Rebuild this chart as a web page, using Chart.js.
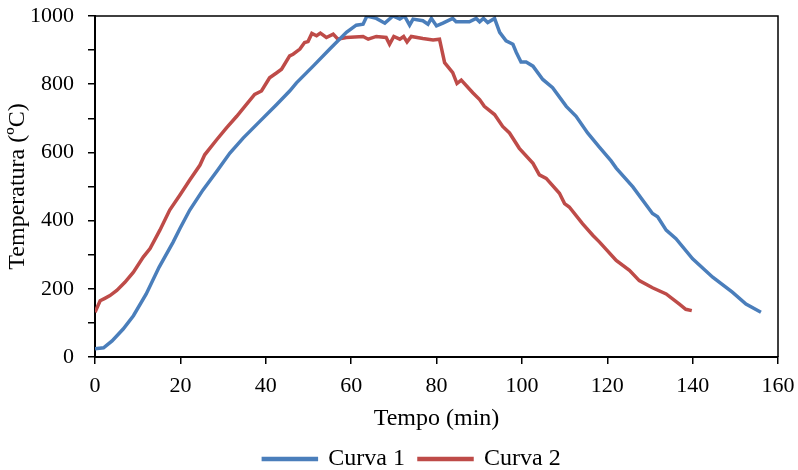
<!DOCTYPE html>
<html>
<head>
<meta charset="utf-8">
<script src="https://cdn.jsdelivr.net/npm/chart.js@4.4.0/dist/chart.umd.min.js"></script>
<style>
    body { margin: 0; background: #fff; }
</style>
</head>
<body>
<canvas id="myChart" width="798" height="470"></canvas>
<script>
var time1 = [0, 2, 4, 6.6, 9, 12, 15, 18.3, 19.9, 22.2, 25.3, 28.5, 31.6, 34.7, 38.6, 42.5, 45.6, 47.2, 51.1, 55,
    58.9, 61.2, 62.8, 63.7, 65.9, 67.9, 69.8, 71.4, 72.5, 73.7, 74.5, 76.8, 78, 78.8, 80, 81.5, 83.8, 84.6, 87.7, 89.3,
    90.1, 91, 92, 93.6, 94.8, 96.3, 97.9, 98.7, 99.8, 101, 102.6, 104.9, 107.2, 110.4, 112.7, 115.4, 118.2, 120.9, 122.1, 126,
    130.6, 131.8, 133.8, 136.1, 140, 144.7, 149.3, 152.5, 156];
var temp1 = [24, 27, 47, 82, 121, 185, 263, 337, 377, 431, 490, 544, 598, 642, 691, 740, 780, 804, 853, 903,
    952, 973, 976, 1000, 993, 979, 1000, 991, 1000, 973, 991, 986, 976, 993, 971, 979, 993, 983, 983, 993,
    983, 993, 981, 993, 952, 927, 917, 893, 865, 865, 853, 814, 790, 735, 706, 657, 615, 575, 554, 499,
    421, 411, 372, 347, 288, 234, 190, 155, 131];

var time2 = [0, 1.2, 2.3, 3.5, 5.1, 7, 9, 11.3, 12.9, 15.2, 17.5, 19.9, 22.2, 24.6, 25.7, 28.5, 30.8, 33.2, 35.1, 37.4,
    39, 40.9, 42.5, 43.7, 45.6, 46.4, 48, 49.1, 49.9, 50.8, 51.9, 52.8, 54.2, 55.8, 56.9, 58.9, 62.8, 64, 65.9, 68.2,
    69, 70, 71.4, 72.3, 73.1, 74.1, 76.8, 79.2, 80.7, 81.9, 83.8, 84.8, 85.8, 88.5, 90.1, 91.2, 93.6, 95.5, 97.1, 99.4,
    102.6, 104.1, 105.7, 108.8, 110, 111.1, 114.2, 116.6, 118.2, 122.1, 125.2, 127.5, 130.6, 133.8, 136.9, 138.4, 139.8];
var temp2 = [131, 165, 172, 180, 195, 219, 249, 293, 318, 372, 431, 475, 519, 563, 593, 637, 672, 706, 735, 770,
    780, 819, 833, 844, 883, 888, 903, 922, 925, 949, 942, 950, 937, 947, 932, 937, 940, 932, 940, 937,
    917, 940, 932, 940, 924, 940, 934, 930, 932, 863, 834, 802, 812, 775, 755, 735, 711, 676, 657, 612,
    568, 534, 524, 480, 450, 440, 391, 357, 337, 283, 254, 224, 203, 185, 155, 140, 136];

var seriesNames = ["Curva 1", "Curva 2"];
var xTicks = [0, 20, 40, 60, 80, 100, 120, 140, 160];
var yLabels = [0, 200, 400, 600, 800, 1000];

function toPoints(xs, ys) {
    var pts = [];
    for (var i = 0; i < xs.length; i++) {
        pts.push({ x: xs[i], y: ys[i] });
    }
    return pts;
}

// top and right edges of the plot box
var frame = {
    id: "frame",
    afterLayout: function (chart) {
        // legend sits a bit right of the canvas centre in the original
        if (chart.legend) {
            chart.legend.left += 23;
            chart.legend.right += 23;
        }
    },
    afterDraw: function (chart) {
        var ctx = chart.ctx;
        var a = chart.chartArea;
        ctx.save();
        ctx.strokeStyle = "#000";
        ctx.lineWidth = 1.5;
        ctx.beginPath();
        ctx.moveTo(a.left, a.top);
        ctx.lineTo(a.right, a.top);
        ctx.lineTo(a.right, a.bottom);
        ctx.stroke();
        ctx.restore();
    }
};

var serif = "'Liberation Serif', 'Times New Roman', serif";

function drawChart() {
    var ctx = document.getElementById("myChart").getContext("2d");
    var myChart = new Chart(ctx, {
        type: "line",
        data: {
            datasets: [
                {
                    label: seriesNames[0],
                    data: toPoints(time1, temp1),
                    borderColor: "#4A7EBB",
                    backgroundColor: "#4A7EBB",
                    borderWidth: 3.5,
                    pointRadius: 0,
                    tension: 0,
                },
                {
                    label: seriesNames[1],
                    data: toPoints(time2, temp2),
                    borderColor: "#BE4B48",
                    backgroundColor: "#BE4B48",
                    borderWidth: 3.5,
                    pointRadius: 0,
                    tension: 0,
                },
            ],
        },
        options: {
            responsive: false,
            animation: false,
            layout: { padding: { top: 16, right: 20, left: 0, bottom: -11 } },
            plugins: {
                legend: {
                    position: "bottom",
                    labels: {
                        font: { family: serif, size: 24 },
                        color: "#000",
                        boxWidth: 53,
                        boxHeight: 1,
                        padding: 14,
                    },
                },
                tooltip: { enabled: false },
            },
            scales: {
                x: {
                    type: "linear",
                    min: 0,
                    max: 160,
                    afterBuildTicks: function (axis) {
                        axis.ticks = xTicks.map(function (v) { return { value: v }; });
                    },
                    afterFit: function (axis) {
                        axis.height = 76;
                        axis.paddingLeft = 0;
                        axis.paddingRight = 0;
                    },
                    grid: { drawOnChartArea: false, drawTicks: true, tickLength: 7, color: "#000", lineWidth: 1.5 },
                    border: { color: "#000", width: 2 },
                    ticks: { font: { family: serif, size: 22 }, color: "#000", padding: 9, maxRotation: 0 },
                    title: { display: true, text: "Tempo (min)", font: { family: serif, size: 24 }, color: "#000", padding: 0 },
                },
                y: {
                    min: 0,
                    max: 1000,
                    afterFit: function (axis) {
                        axis.width = 95;
                        axis.paddingTop = 0;
                        axis.paddingBottom = 0;
                    },
                    grid: { drawOnChartArea: false, drawTicks: true, tickLength: 7, color: "#000", lineWidth: 1.5 },
                    border: { color: "#000", width: 2 },
                    ticks: {
                        stepSize: 100,
                        font: { family: serif, size: 22 },
                        color: "#000",
                        padding: 14,
                        callback: function (v) { return yLabels.indexOf(v) >= 0 ? String(v) : ""; },
                    },
                    title: { display: true, text: "Temperatura (ºC)", font: { family: serif, size: 24 }, color: "#000", padding: { top: 3, bottom: 0 } },
                },
            },
        },
        plugins: [frame],
    });
}

window.onload = drawChart;
</script>
</body>
</html>
